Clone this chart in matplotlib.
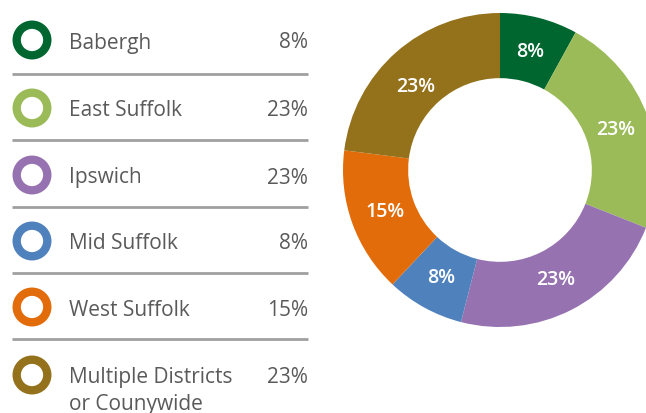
import matplotlib
matplotlib.use("Agg")
import matplotlib.pyplot as plt
from matplotlib.patches import Circle

# data
districts = ["Babergh", "East Suffolk", "Ipswich", "Mid Suffolk", "West Suffolk",
             "Multiple Districts\nor Counywide"]
shares = [8, 23, 23, 8, 15, 23]
colors = ["#00662f", "#9bbb59", "#9673b0", "#4f81bd", "#e36c0a", "#94711b"]

plt.rcParams['font.family'] = ['Open Sans', 'DejaVu Sans']

W, H = 646, 414
fig = plt.figure(figsize=(W / 100, H / 100), dpi=100)
ax = fig.add_axes([0, 0, 1, 1])

# donut (pixel coords, y up)
cx, cy, r = 500, H - 171, 157
wedges, _, autotexts = ax.pie(
    shares, colors=colors, startangle=90, counterclock=False,
    center=(cx, cy), radius=r, autopct=lambda p: f"{p:.0f}%",
    pctdistance=0.78, wedgeprops=dict(width=r * 0.415, linewidth=0),
    textprops=dict(color="white", fontsize=14, fontweight="semibold"))
# the olive label sits a little nearer the hole in the original
autotexts[-1].set_position((cx - 84, cy - (87 - 171)))

# legend rows
txt_col = "#5a5a5a"
row_y = [41, 109, 176, 242, 308, 376]
sep_y = [75, 141, 208, 274, 340]
for name, val, col, y in zip(districts, shares, colors, row_y):
    yy = H - y
    ax.add_patch(Circle((32, yy), 15.3, facecolor="white", edgecolor=col,
                        linewidth=6.0))
    base = yy - 7.5
    for i, line in enumerate(name.split("\n")):
        ax.text(69, base - 27 * i, line, fontsize=15, color=txt_col,
                va="baseline", ha="left")
    ax.text(308, base, f"{val}%", fontsize=15, color=txt_col,
            va="baseline", ha="right")
for y in sep_y:
    ax.plot([12, 308], [H - y, H - y], color="#a0a0a0", lw=2, solid_capstyle="butt")

ax.set_xlim(0, W)
ax.set_ylim(0, H)
ax.set_aspect("auto")
ax.axis("off")

fig.savefig("out.png", dpi=100)
